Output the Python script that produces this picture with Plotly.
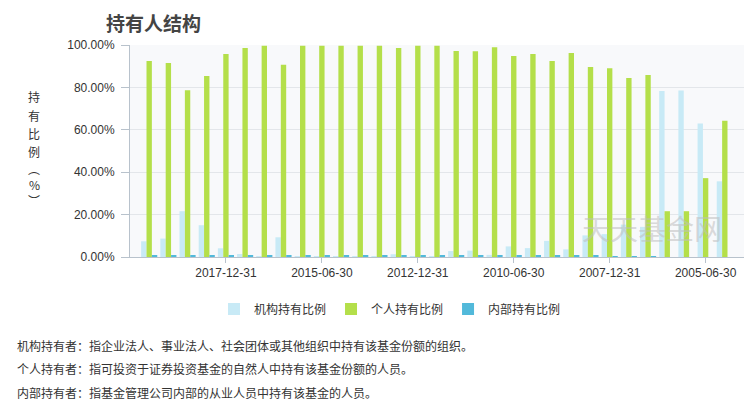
import plotly.graph_objects as go

dates = ["2019-12-31", "2019-06-30", "2018-12-31", "2018-06-30", "2017-12-31", "2017-06-30",
         "2016-12-31", "2016-06-30", "2015-12-31", "2015-06-30", "2014-12-31", "2014-06-30",
         "2013-12-31", "2013-06-30", "2012-12-31", "2012-06-30", "2011-12-31", "2011-06-30",
         "2010-12-31", "2010-06-30", "2009-12-31", "2009-06-30", "2008-12-31", "2008-06-30",
         "2007-12-31", "2007-06-30", "2006-12-31", "2006-06-30", "2005-12-31", "2005-06-30",
         "2004-12-31"]

institution = [7.4, 8.7, 21.6, 15.0, 4.1, 1.4, 0.3, 9.3, 0.2, 0.2, 0.2, 0.2, 0.3, 1.3, 0.2, 0.2,
               2.8, 3.0, 1.0, 5.0, 4.2, 7.6, 3.6, 10.2, 10.8, 15.3, 14.2, 78.3, 78.5, 63.0, 35.7]
individual = [92.4, 91.5, 78.7, 85.4, 95.7, 98.6, 99.7, 90.7, 99.7, 99.7, 99.7, 99.7, 99.7, 98.6,
              99.7, 99.7, 97.2, 97.0, 98.9, 94.8, 95.7, 92.4, 96.2, 89.6, 89.0, 84.4, 85.8, 21.6,
              21.6, 37.2, 64.3]
internal = [0.5, 0.5, 0.5, 0.5, 0.5, 0.5, 0.5, 0.5, 0.5, 0.5, 0.5, 0.5, 0.5, 0.5, 0.5, 0.5,
            0.5, 0.5, 0.5, 0.5, 0.5, 0.5, 0.5, 0.5, 0.3, 0.2, 0.2, 0.0, 0.0, 0.0, 0.0]

series_names = ["机构持有比例", "个人持有比例", "内部持有比例"]
tick_dates = ["2017-12-31", "2015-06-30", "2012-12-31", "2010-06-30", "2007-12-31", "2005-06-30"]
y_ticks = [0, 20, 40, 60, 80, 100]
y_title_chars = ["持", "有", "比", "例", "︵", "%", "︶"]

notes = [
    "机构持有者：指企业法人、事业法人、社会团体或其他组织中持有该基金份额的组织。",
    "个人持有者：指可投资于证券投资基金的自然人中持有该基金份额的人员。",
    "内部持有者：指基金管理公司内部的从业人员中持有该基金的人员。",
]

FONT = "Liberation Sans, Arial, Noto Sans CJK SC"
CJK = "Noto Sans CJK SC"

L, R, T, B = 130, 9, 45, 155
PW, PH = 753 - L - R, 412 - T - B

fig = go.Figure()
fig.add_trace(go.Bar(x=dates, y=institution, name=series_names[0],
                     marker=dict(color="#c8eaf6", line=dict(width=0))))
fig.add_trace(go.Bar(x=dates, y=individual, name=series_names[1],
                     marker=dict(color="#b4df4a", line=dict(width=0))))
fig.add_trace(go.Bar(x=dates, y=internal, name=series_names[2],
                     marker=dict(color="#52b9da", line=dict(width=0))))

fig.update_layout(
    width=753, height=412,
    margin=dict(l=L, r=R, t=T, b=B, autoexpand=False),
    paper_bgcolor="white",
    plot_bgcolor="#f8f9fb",
    barmode="group",
    bargap=0.16, bargroupgap=0.0,
    font=dict(family=FONT, size=12, color="#333333"),
    showlegend=True,
    legend=dict(orientation="h", x=(390 - L) / PW, xanchor="center",
                y=-(309 - (T + PH)) / PH, yanchor="middle",
                font=dict(family=CJK, size=12, color="#333333"),
                itemwidth=30, traceorder="normal", bgcolor="rgba(0,0,0,0)"),
    xaxis=dict(type="category", range=[-1, 31], automargin=False,
               tickmode="array", tickvals=tick_dates, ticktext=tick_dates,
               ticks="outside", ticklen=5, tickcolor="#b8c2cc",
               showline=True, linecolor="#b8c2cc", linewidth=1,
               showgrid=False, tickfont=dict(size=12, color="#333333")),
    yaxis=dict(range=[0, 100], tickvals=y_ticks, automargin=False,
               ticktext=[f"{v:.2f}%" for v in y_ticks],
               ticks="outside", ticklen=8, tickcolor="#b8c2cc",
               ticklabelstandoff=4,
               showline=True, linecolor="#b8c2cc", linewidth=1,
               showgrid=True, gridcolor="#e3e6ea", zeroline=False,
               tickfont=dict(size=12, color="#333333")),
)

fig.add_annotation(text="<b>持有人结构</b>", xref="paper", yref="paper",
                   x=(104 - L) / PW, y=(T + PH - 22) / PH, xanchor="left", yanchor="middle",
                   showarrow=False, font=dict(family=CJK, size=19, color="#444444"))

y_title_pos = [97, 115, 133, 151, 168, 184, 200]
for ch, yp in zip(y_title_chars, y_title_pos):
    fig.add_annotation(text=ch, xref="paper", yref="paper",
                       x=(34 - L) / PW, y=(T + PH - yp) / PH, xanchor="center", yanchor="middle",
                       showarrow=False, borderpad=0,
                       font=dict(family=CJK, size=12, color="#333333"))

fig.add_annotation(text="天天基金网", xref="paper", yref="paper",
                   x=(652 - L) / PW, y=(T + PH - 228) / PH, xanchor="center", yanchor="middle",
                   showarrow=False, font=dict(family=CJK, size=28, color="rgba(190,190,190,0.55)"))

note_y = [345, 368, 392]
for t, yp in zip(notes, note_y):
    fig.add_annotation(text=t, xref="paper", yref="paper",
                       x=(15 - L) / PW, y=(T + PH - yp) / PH, xanchor="left", yanchor="middle",
                       showarrow=False, font=dict(family=CJK, size=12, color="#333333"))

fig.write_html("out.html", config={"displayModeBar": False},
               post_script="document.body.style.margin='0';document.body.style.padding='0';")
